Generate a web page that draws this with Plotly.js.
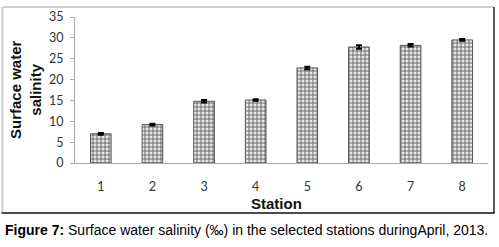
<!DOCTYPE html>
<html>
<head>
<meta charset="utf-8">
<script src="https://cdn.plot.ly/plotly-3.0.1.min.js"></script>
<style>html,body{margin:0;padding:0;background:#fff;}#chart{width:499px;height:247px;}</style>
</head>
<body>
<div id="chart"></div>
<script>
var stations = ["1", "2", "3", "4", "5", "6", "7", "8"];
var salinity = [7.0, 9.2, 14.8, 15.1, 22.8, 27.8, 28.2, 29.5];
var salinityErr = [0.2, 0.2, 0.3, 0.2, 0.3, 0.4, 0.3, 0.2];
var yTicks = [0, 5, 10, 15, 20, 25, 30, 35];

var trace = {
  type: "bar",
  x: stations,
  y: salinity,
  width: 0.4,
  marker: {
    color: "#e8e8e8",
    line: {color: "#555", width: 1},
    pattern: {shape: "+", fgcolor: "#505050", bgcolor: "#e6e6e6", size: 4, solidity: 0.35}
  },
  error_y: {type: "data", array: salinityErr, visible: true, color: "#000", thickness: 2, width: 3}
};

var layout = {
  width: 499, height: 247,
  margin: {l: 75, r: 11, t: 17, b: 84},
  paper_bgcolor: "#fff", plot_bgcolor: "#fff",
  showlegend: false,
  font: {family: "Lato, Liberation Sans, Arial, sans-serif", size: 12, color: "#333"},
  xaxis: {
    type: "category",
    showline: true, linecolor: "#aaa", linewidth: 1,
    ticks: "", showgrid: false, zeroline: false,
    ticklabelstandoff: 12,
    tickfont: {family: "Lato, Liberation Sans, sans-serif", size: 12.5, color: "#333"}
  },
  yaxis: {
    range: [0, 35], tickvals: yTicks,
    showline: true, linecolor: "#aaa", linewidth: 1,
    ticks: "outside", ticklen: 4, tickcolor: "#aaa",
    showgrid: false, zeroline: false,
    ticklabelstandoff: 4,
    tickfont: {family: "Lato, Liberation Sans, sans-serif", size: 12.5, color: "#333"}
  },
  shapes: [
    {type: "line", xref: "paper", yref: "paper", x0: -0.174, x1: 1.0145, y0: 1.0685, y1: 1.0685, line: {color: "#999", width: 1}},
    {type: "line", xref: "paper", yref: "paper", x0: -0.176, x1: -0.176, y0: 1.0685, y1: -0.3425, line: {color: "#ccc", width: 2}},
    {type: "line", xref: "paper", yref: "paper", x0: 1.0145, x1: 1.0145, y0: 1.0685, y1: -0.3425, line: {color: "#222", width: 1.5}},
    {type: "line", xref: "paper", yref: "paper", x0: -0.178, x1: 1.016, y0: -0.3425, y1: -0.3425, line: {color: "#111", width: 1.5}}
  ],
  annotations: [
    {xref: "paper", yref: "paper", x: -0.121, y: 0.5, xanchor: "center", yanchor: "middle", textangle: -90,
     text: "<b>Surface water<br>salinity</b>", showarrow: false,
     font: {family: "Liberation Sans, Arial, sans-serif", size: 15, color: "#111"}},
    {xref: "paper", yref: "paper", x: 0.489, y: -0.275, xanchor: "center", yanchor: "middle",
     text: "<b>Station</b>", showarrow: false,
     font: {family: "Liberation Sans, Arial, sans-serif", size: 15, color: "#111"}},
    {xref: "paper", yref: "paper", x: -0.174, y: -0.46, xanchor: "left", yanchor: "middle",
     text: "<b>Figure 7:</b> Surface water salinity (‰) in the selected stations duringApril, 2013.", showarrow: false,
     font: {family: "Liberation Sans, Arial, sans-serif", size: 14, color: "#000"}}
  ]
};

Plotly.newPlot("chart", [trace], layout, {displayModeBar: false, staticPlot: true});
</script>
</body>
</html>
